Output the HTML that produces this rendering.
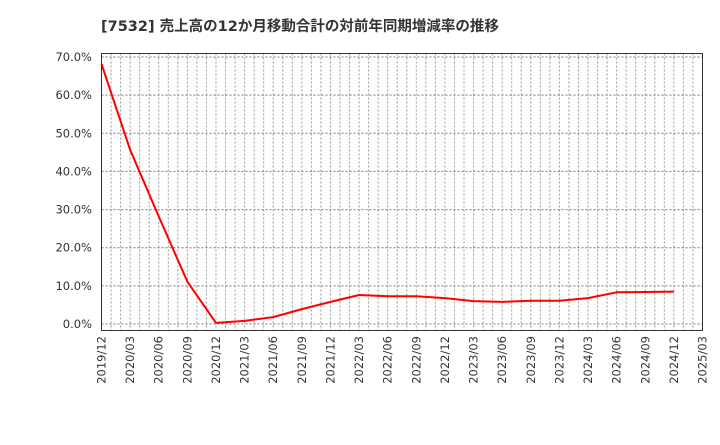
<!DOCTYPE html>
<html><head><meta charset="utf-8"><style>
body{margin:0;background:#fff;}
svg text{font-family:"DejaVu Sans","Noto Sans CJK JP",sans-serif;fill:#333;}
</style></head><body>
<svg id="chart" width="720" height="440" xmlns="http://www.w3.org/2000/svg">
<text x="101" y="31" font-size="14.5" font-weight="bold">[7532]  売上高の12か月移動合計の対前年同期増減率の推移</text>
<g id="grid"></g><g id="axes"></g><g id="series"></g>
<rect x="101.5" y="53.5" width="601" height="277" fill="none" stroke="#333" stroke-width="1"/>
</svg>
<script>
const categories=["2019/12","2020/03","2020/06","2020/09","2020/12","2021/03","2021/06","2021/09","2021/12","2022/03","2022/06","2022/09","2022/12","2023/03","2023/06","2023/09","2023/12","2024/03","2024/06","2024/09","2024/12"];
const values=[68.2,45.7,28.2,11.1,0.3,0.8,1.8,3.9,5.8,7.6,7.3,7.3,6.8,6.0,5.8,6.1,6.1,6.8,8.3,8.4,8.5];
const xTickLabels=["2019/12","2020/03","2020/06","2020/09","2020/12","2021/03","2021/06","2021/09","2021/12","2022/03","2022/06","2022/09","2022/12","2023/03","2023/06","2023/09","2023/12","2024/03","2024/06","2024/09","2024/12","2025/03"];
const yTicks=[0,10,20,30,40,50,60,70];
const NS="http://www.w3.org/2000/svg";
const L=101.5,R=702.5,T=53.5,B=330.5;
const x=i=>L+i*(R-L)/63;
const y=v=>324-v*(324-57)/70;
function mk(tag,attrs,parent){const e=document.createElementNS(NS,tag);for(const k in attrs)e.setAttribute(k,attrs[k]);document.getElementById(parent).appendChild(e);return e;}
for(let m=1;m<63;m++){
 const l=mk('line',{x1:x(m),x2:x(m),y1:T,y2:B,stroke:'#999','stroke-dasharray':'2,2'},'grid');
 
 
}
yTicks.forEach(v=>{
 const l=mk('line',{x1:L,x2:R,y1:y(v),y2:y(v),stroke:'#777','stroke-dasharray':'2,2'},'grid');
 
 
 const t=mk('text',{x:92,y:y(v)+4,'font-size':11.5,'text-anchor':'end'},'axes');
 t.textContent=v.toFixed(1)+'%';
 
 
});
xTickLabels.forEach((s,i)=>{
 const px=x(i*3);
 const t=mk('text',{x:0,y:0,'font-size':11.5,'text-anchor':'end',transform:`translate(${px+4},336) rotate(-90)`},'axes');
 t.textContent=s;
 
 
});
const pts=values.map((v,i)=>x(i*3).toFixed(1)+','+y(v).toFixed(1)).join(' ');
const pl=mk('polyline',{points:pts,fill:'none',stroke:'#f00','stroke-width':2,'stroke-linejoin':'round'},'series');


</script>
</body></html>
